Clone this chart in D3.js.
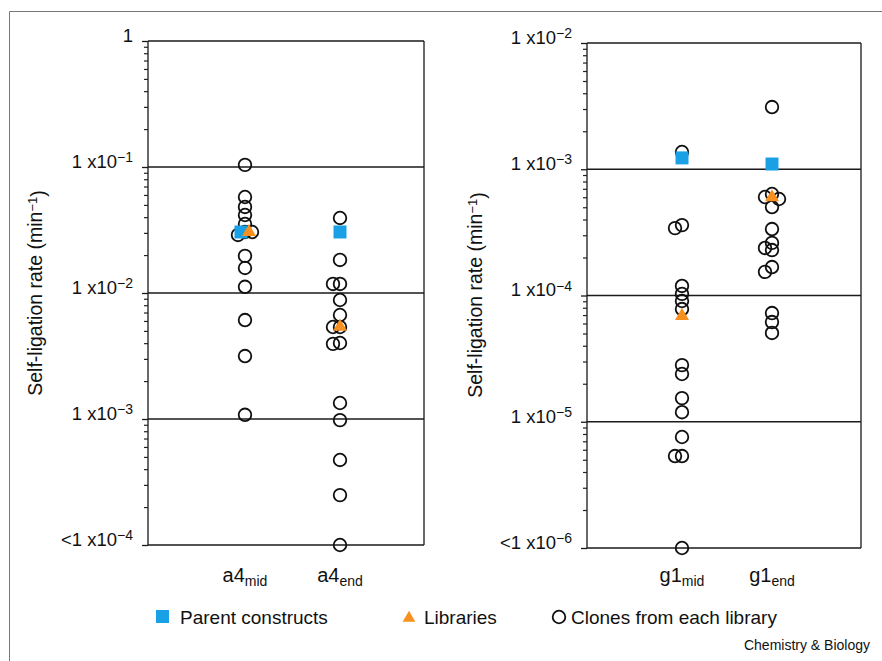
<!DOCTYPE html>
<html>
<head>
<meta charset="utf-8">
<script src="https://cdn.jsdelivr.net/npm/d3@7"></script>
<style>
  body { margin: 0; background: #fff; }
  text { font-family: "Liberation Sans", Arial, Helvetica, sans-serif; fill: #111; }
</style>
</head>
<body>
<script>
// ---- data ----
// left panel: a4 libraries
const catsA = ["a4mid", "a4end"];
const catLabelsA = [["a4", "mid"], ["a4", "end"]];
const parentA = [0.0305, 0.0305];
const libraryA = [0.0305, 0.0054];
const clonesA_mid = [0.104, 0.0578, 0.0482, 0.0416, 0.0353, 0.0305, 0.0289, 0.0305,
                     0.0197, 0.0158, 0.0112, 0.0061, 0.00316, 0.00108];
const clonesA_end = [0.0394, 0.0183, 0.0118, 0.0118, 0.0088, 0.00669, 0.00537, 0.00537,
                     0.00401, 0.00395, 0.00134, 0.00098, 0.000473, 0.000249, 0.0001];
const ticksA = [1, 1e-1, 1e-2, 1e-3, 1e-4];
const tickLabelsA = [["1", ""], ["1 x10", "−1"], ["1 x10", "−2"], ["1 x10", "−3"], ["<1 x10", "−4"]];

// right panel: g1 libraries
const catsG = ["g1mid", "g1end"];
const catLabelsG = [["g1", "mid"], ["g1", "end"]];
const parentG = [1.23e-3, 1.10e-3];
const libraryG = [6.9e-5, 6.0e-4];
const clonesG_mid = [1.37e-3, 3.61e-4, 3.42e-4, 1.19e-4, 1.03e-4, 9.04e-5, 7.81e-5,
                     2.81e-5, 2.39e-5, 1.54e-5, 1.19e-5, 7.57e-6, 5.35e-6, 5.35e-6, 1.0e-6];
const clonesG_end = [3.11e-3, 6.37e-4, 6.03e-4, 5.81e-4, 5.02e-4, 3.36e-4, 2.61e-4,
                     2.38e-4, 2.29e-4, 1.68e-4, 1.54e-4, 7.26e-5, 6.16e-5, 5.05e-5];
const ticksG = [1e-2, 1e-3, 1e-4, 1e-5, 1e-6];
const tickLabelsG = [["1 x10", "−2"], ["1 x10", "−3"], ["1 x10", "−4"], ["1 x10", "−5"], ["<1 x10", "−6"]];

const legendItems = ["Parent constructs", "Libraries", "Clones from each library"];

// ---- setup ----
const width = 882, height = 661;
const blue = "#1aa0e4", orange = "#f7901e";

const svg = d3.select("body").append("svg")
    .attr("width", width)
    .attr("height", height);

// outer border of the figure
svg.append("path")
    .attr("d", "M9.5,661 V11.5 H882")
    .attr("fill", "none")
    .attr("stroke", "#777")
    .attr("stroke-width", 1);

const panels = [
  { cats: catsA, labels: catLabelsA, parent: parentA, library: libraryA,
    clones: [clonesA_mid, clonesA_end], ticks: ticksA, tickLabels: tickLabelsA,
    x0: 148, x1: 424, y0: 41, y1: 545, xr: [245, 340], title: [42, 293] },
  { cats: catsG, labels: catLabelsG, parent: parentG, library: libraryG,
    clones: [clonesG_mid, clonesG_end], ticks: ticksG, tickLabels: tickLabelsG,
    x0: 587, x1: 861, y0: 43, y1: 548, xr: [682, 772], title: [482, 295] }
];

// simple dodge so overlapping clones sit side by side
function dodge(ys, minD, step) {
  const placed = [];
  return ys.map(y => {
    const cands = [0, -step, step, -2 * step, 2 * step];
    let off = cands[cands.length - 1];
    for (const c of cands) {
      if (placed.every(p => Math.hypot(p[0] - c, p[1] - y) >= minD)) { off = c; break; }
    }
    placed.push([off, y]);
    return off;
  });
}

panels.forEach(p => {
  const yScale = d3.scaleLog()
      .domain([p.ticks[p.ticks.length - 1], p.ticks[0]])
      .range([p.y1, p.y0]);
  const xScale = d3.scalePoint()
      .domain(p.cats)
      .range(p.xr);

  const g = svg.append("g");

  // horizontal lines at each decade
  g.selectAll(".grid")
    .data(p.ticks)
    .enter()
    .append("line")
    .attr("x1", p.x0).attr("x2", p.x1)
    .attr("y1", d => yScale(d)).attr("y2", d => yScale(d))
    .attr("stroke", "#1a1a1a")
    .attr("stroke-width", 1.3);

  // frame
  g.append("path")
    .attr("d", `M${p.x0},${p.y0} V${p.y1} M${p.x1},${p.y0} V${p.y1}`)
    .attr("stroke", "#1a1a1a")
    .attr("stroke-width", 1.3);

  // minor ticks
  const minor = yScale.ticks().filter(v => !p.ticks.some(t => Math.abs(Math.log10(v) - Math.log10(t)) < 1e-6));
  g.append("g")
    .attr("transform", `translate(${p.x0},0)`)
    .call(d3.axisLeft(yScale).tickValues(minor).tickSize(4).tickFormat(""))
    .call(a => a.select(".domain").remove())
    .call(a => a.selectAll(".tick line").attr("stroke", "#222").attr("stroke-width", 1.2));

  // major ticks + labels
  const major = g.append("g")
    .attr("transform", `translate(${p.x0},0)`)
    .call(d3.axisLeft(yScale).tickValues(p.ticks).tickSize(6).tickFormat(""));
  major.select(".domain").remove();
  major.selectAll(".tick line").attr("stroke", "#1a1a1a").attr("stroke-width", 1.3);
  major.selectAll(".tick text").each(function (d, i) {
    const t = d3.select(this)
      .attr("x", -15)
      .attr("dy", "0.02em")
      .attr("font-size", 18.5)
      .attr("font-family", null)
      .attr("fill", "#111");
    t.append("tspan").text(p.tickLabels[i][0]);
    t.append("tspan").attr("dy", "-0.42em").attr("font-size", 14).text(p.tickLabels[i][1]);
  });

  // y axis title
  const title = g.append("text")
    .attr("transform", `translate(${p.title[0]},${p.title[1]}) rotate(-90)`)
    .attr("text-anchor", "middle")
    .attr("font-size", 19.5);
  title.append("tspan").text("Self-ligation rate (min");
  title.append("tspan").attr("dy", "-0.42em").attr("font-size", 13).text("−1");
  title.append("tspan").attr("dy", "0.42em").text(")");

  // category labels
  p.cats.forEach((c, i) => {
    const lab = g.append("text")
      .attr("x", xScale(c))
      .attr("y", 582)
      .attr("text-anchor", "middle")
      .attr("font-size", 20);
    lab.append("tspan").text(p.labels[i][0]);
    lab.append("tspan").attr("dy", "0.3em").attr("font-size", 14).text(p.labels[i][1]);
  });

  // clones (open circles)
  p.cats.forEach((c, i) => {
    const vals = p.clones[i];
    const offs = dodge(vals.map(v => yScale(v)), 7, 7);
    g.selectAll(null)
      .data(vals)
      .enter()
      .append("circle")
      .attr("cx", (d, j) => xScale(c) + offs[j])
      .attr("cy", d => yScale(d))
      .attr("r", 6.3)
      .attr("fill", "none")
      .attr("stroke", "#111")
      .attr("stroke-width", 1.8);
  });

  // parents and libraries, nudged apart when they coincide
  const nudge = p.cats.map((c, i) =>
    Math.abs(yScale(p.parent[i]) - yScale(p.library[i])) < 6 ? 4 : 0);

  g.selectAll(".parent")
    .data(p.parent)
    .enter()
    .append("path")
    .attr("d", d3.symbol(d3.symbolSquare, 169))
    .attr("transform", (d, i) => `translate(${xScale(p.cats[i]) - nudge[i]},${yScale(d)})`)
    .attr("fill", blue);

  g.selectAll(".library")
    .data(p.library)
    .enter()
    .append("path")
    .attr("d", d3.symbol(d3.symbolTriangle, 85))
    .attr("transform", (d, i) => `translate(${xScale(p.cats[i]) + nudge[i]},${yScale(d)})`)
    .attr("fill", orange);
});

// legend
const legend = svg.append("g").attr("font-size", 19);
legend.append("rect").attr("x", 156).attr("y", 610).attr("width", 13).attr("height", 13).attr("fill", blue);
legend.append("text").attr("x", 180).attr("y", 624).text(legendItems[0]);
legend.append("path").attr("d", d3.symbol(d3.symbolTriangle, 70))
  .attr("transform", "translate(409,618)").attr("fill", orange);
legend.append("text").attr("x", 424).attr("y", 624).text(legendItems[1]);
legend.append("circle").attr("cx", 559).attr("cy", 617).attr("r", 6.3)
  .attr("fill", "none").attr("stroke", "#111").attr("stroke-width", 1.8);
legend.append("text").attr("x", 571).attr("y", 624).text(legendItems[2]);

svg.append("text")
  .attr("x", 870).attr("y", 650)
  .attr("text-anchor", "end")
  .attr("font-size", 14)
  .text("Chemistry & Biology");
</script>
</body>
</html>
